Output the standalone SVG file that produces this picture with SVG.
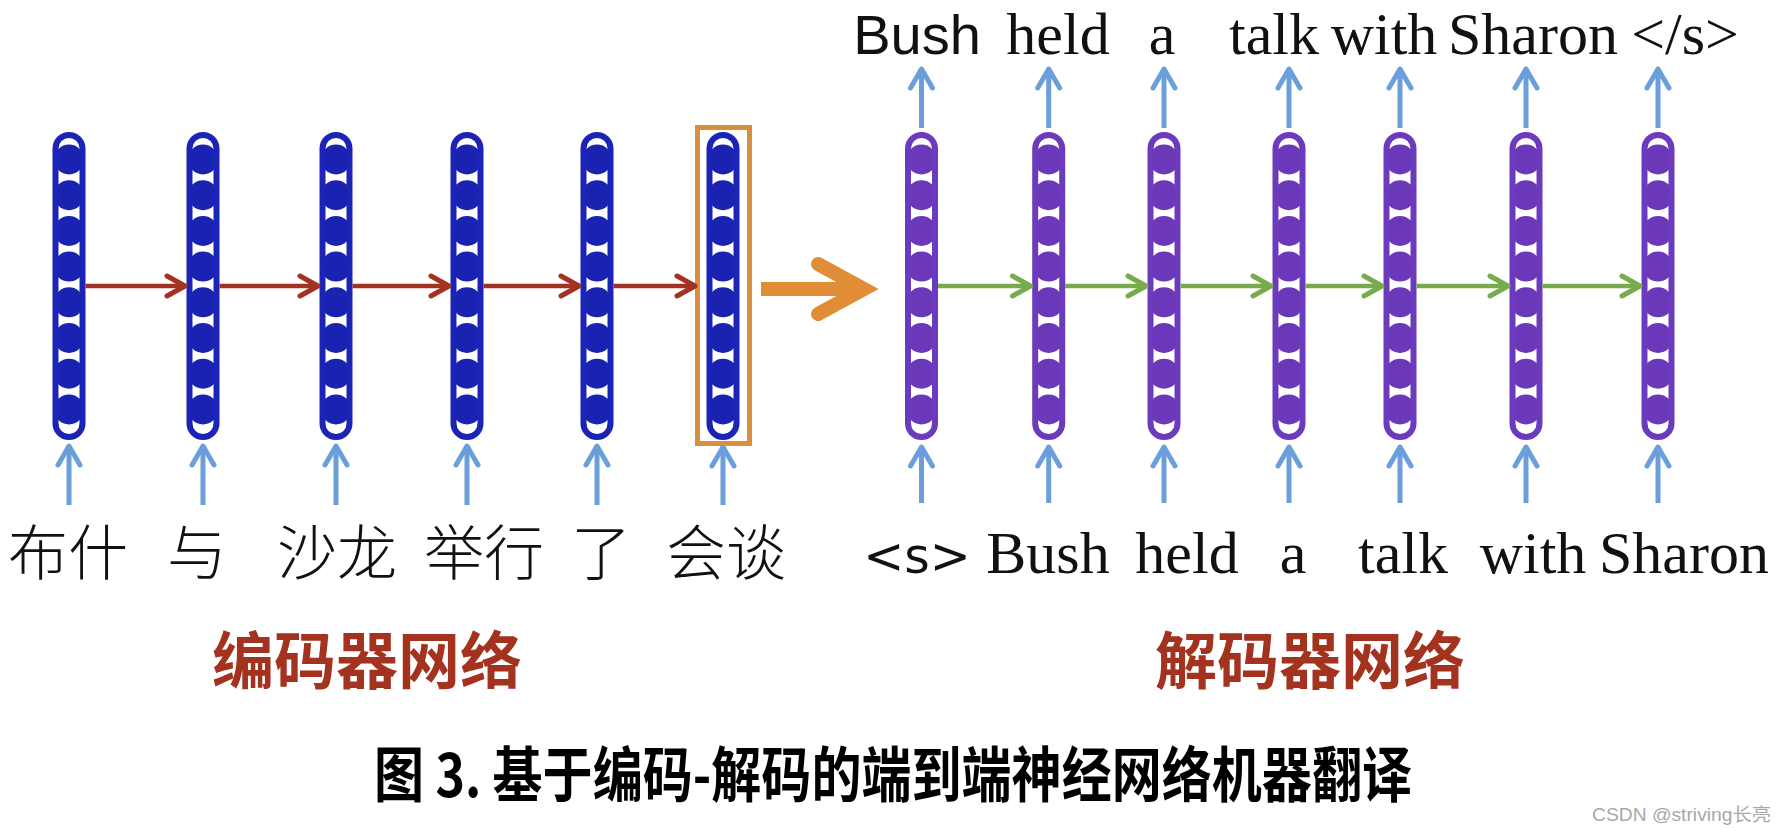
<svg xmlns="http://www.w3.org/2000/svg" xmlns:xlink="http://www.w3.org/1999/xlink" width="1786" height="836" viewBox="0 0 1786 836">
<style>
.cn{font-family:"Noto Sans CJK SC","Noto Sans",sans-serif;fill:#111;font-size:60px;font-weight:300;text-anchor:middle}
.head{font-family:"Noto Sans CJK SC","Noto Sans",sans-serif;fill:#a3321f;font-size:62px;font-weight:700;text-anchor:middle}
.tm{font-family:"Liberation Serif","Times New Roman",serif;fill:#111;font-size:60px;text-anchor:middle}
.sn{font-family:"Liberation Sans",Arial,sans-serif;fill:#111;font-size:56px;text-anchor:middle}
.dv{font-family:"DejaVu Sans",Verdana,sans-serif;fill:#111;font-size:49px;text-anchor:middle}
.cap{font-family:"Noto Sans CJK SC","Noto Sans",sans-serif;fill:#000;font-size:60px;font-weight:700}
.wm{font-family:"Liberation Sans","Noto Sans CJK SC",sans-serif;fill:#a8a8a8;font-size:18px}
.blue{stroke:#6a9fdb;stroke-width:5;fill:none}
.red{stroke:#a33222;stroke-width:4.5;fill:none}
.green{stroke:#77ab4b;stroke-width:4.5;fill:none}
.mh{fill:none;stroke-linecap:round;stroke-linejoin:round}
</style>
<defs>
<marker id="mBlue" markerUnits="userSpaceOnUse" markerWidth="40" markerHeight="40" viewBox="-30 -20 40 40" refX="0" refY="0" orient="auto">
<path class="mh" d="M-19,-11 L0,0 L-19,11" stroke="#6a9fdb" stroke-width="5"/>
</marker>
<marker id="mRed" markerUnits="userSpaceOnUse" markerWidth="40" markerHeight="40" viewBox="-30 -20 40 40" refX="0" refY="0" orient="auto">
<path class="mh" d="M-18,-10 L0,0 L-18,10" stroke="#a33222" stroke-width="5"/>
</marker>
<marker id="mGreen" markerUnits="userSpaceOnUse" markerWidth="40" markerHeight="40" viewBox="-30 -20 40 40" refX="0" refY="0" orient="auto">
<path class="mh" d="M-18,-10 L0,0 L-18,10" stroke="#77ab4b" stroke-width="5"/>
</marker>
<g id="encCol">
<g fill="#1a22b2">
<circle cx="0" cy="159.5" r="15"/><circle cx="0" cy="195.2" r="15"/><circle cx="0" cy="230.9" r="15"/><circle cx="0" cy="266.6" r="15"/>
<circle cx="0" cy="302.3" r="15"/><circle cx="0" cy="338" r="15"/><circle cx="0" cy="373.7" r="15"/><circle cx="0" cy="409.4" r="15"/>
</g>
<rect x="-13.5" y="135" width="27" height="302" rx="13.5" fill="none" stroke="#1c24b8" stroke-width="6"/>
</g>
<g id="decCol">
<g fill="#6a38b8">
<circle cx="0" cy="159.5" r="15"/><circle cx="0" cy="195.2" r="15"/><circle cx="0" cy="230.9" r="15"/><circle cx="0" cy="266.6" r="15"/>
<circle cx="0" cy="302.3" r="15"/><circle cx="0" cy="338" r="15"/><circle cx="0" cy="373.7" r="15"/><circle cx="0" cy="409.4" r="15"/>
</g>
<rect x="-13.5" y="135" width="27" height="302" rx="13.5" fill="none" stroke="#6c3abc" stroke-width="6"/>
</g>
</defs>
<rect width="1786" height="836" fill="#fff"/>

<g id="encoder">
<g id="enc1"><use xlink:href="#encCol" transform="translate(69,0)"/></g>
<g id="enc2"><use xlink:href="#encCol" transform="translate(203,0)"/></g>
<g id="enc3"><use xlink:href="#encCol" transform="translate(336,0)"/></g>
<g id="enc4"><use xlink:href="#encCol" transform="translate(467,0)"/></g>
<g id="enc5"><use xlink:href="#encCol" transform="translate(597,0)"/></g>
<g id="enc6"><use xlink:href="#encCol" transform="translate(723,0)"/>
<rect x="697.5" y="127.5" width="52" height="316" fill="none" stroke="#d9903c" stroke-width="5"/></g>
</g>

<g id="decoder">
<g id="dec1"><use xlink:href="#decCol" transform="translate(921.5,0)"/></g>
<g id="dec2"><use xlink:href="#decCol" transform="translate(1048.7,0)"/></g>
<g id="dec3"><use xlink:href="#decCol" transform="translate(1164,0)"/></g>
<g id="dec4"><use xlink:href="#decCol" transform="translate(1289,0)"/></g>
<g id="dec5"><use xlink:href="#decCol" transform="translate(1400,0)"/></g>
<g id="dec6"><use xlink:href="#decCol" transform="translate(1526,0)"/></g>
<g id="dec7"><use xlink:href="#decCol" transform="translate(1658,0)"/></g>
</g>

<g id="connectors">
<g class="red" marker-end="url(#mRed)">
<path d="M85.5,286 H185"/>
<path d="M219.5,286 H318"/>
<path d="M352.5,286 H449"/>
<path d="M483.5,286 H579"/>
<path d="M613.5,286 H695"/>
</g>
<g class="green" marker-end="url(#mGreen)">
<path d="M938,286 H1030.5"/>
<path d="M1065.2,286 H1146"/>
<path d="M1180.5,286 H1271"/>
<path d="M1305.5,286 H1382"/>
<path d="M1416.5,286 H1508"/>
<path d="M1542.5,286 H1640"/>
</g>
<g class="blue" marker-end="url(#mBlue)">
<path d="M69,505 V446"/>
<path d="M203,505 V446"/>
<path d="M336,505 V446"/>
<path d="M467,505 V446"/>
<path d="M597,505 V446"/>
<path d="M723,505 V447"/>
<path d="M921.5,503 V447"/>
<path d="M1048.7,503 V447"/>
<path d="M1164,503 V447"/>
<path d="M1289,503 V447"/>
<path d="M1400,503 V447"/>
<path d="M1526,503 V447"/>
<path d="M1658,503 V447"/>
<path d="M921.5,128 V69"/>
<path d="M1048.7,128 V69"/>
<path d="M1164,128 V69"/>
<path d="M1289,128 V69"/>
<path d="M1400,128 V69"/>
<path d="M1526,128 V69"/>
<path d="M1658,128 V69"/>
</g>
<g id="bridge" fill="none" stroke="#e08d35" stroke-width="14">
<path d="M761,289 H858"/>
<path d="M818,264 L864,289 L818,314" stroke-linecap="round" stroke-linejoin="miter"/>
</g>
</g>

<g id="labels">
<text class="cn" x="68" y="575">布什</text>
<text class="cn" x="197" y="575">与</text>
<text class="cn" x="337" y="575">沙龙</text>
<text class="cn" x="484" y="575">举行</text>
<text class="cn" x="601" y="575">了</text>
<text class="cn" x="726" y="575">会谈</text>

<text class="dv" x="917" y="573">&lt;s&gt;</text>
<text class="tm" x="1048" y="573">Bush</text>
<text class="tm" x="1187" y="573">held</text>
<text class="tm" x="1293" y="573">a</text>
<text class="tm" x="1403" y="573">talk</text>
<text class="tm" x="1533" y="573">with</text>
<text class="tm" x="1684" y="573">Sharon</text>

<text class="sn" x="917" y="54">Bush</text>
<text class="tm" x="1058" y="54">held</text>
<text class="tm" x="1162" y="54">a</text>
<text class="tm" x="1274" y="54">talk</text>
<text class="tm" x="1384" y="54">with</text>
<text class="tm" x="1533" y="54">Sharon</text>
<text class="tm" x="1685" y="54">&lt;/s&gt;</text>

<text class="head" x="367" y="684">编码器网络</text>
<text class="head" x="1310" y="684">解码器网络</text>

<text class="cap" x="374" y="797" textLength="1038" lengthAdjust="spacingAndGlyphs">图 3. 基于编码-解码的端到端神经网络机器翻译</text>
<text class="wm" x="1592" y="821" textLength="179" lengthAdjust="spacingAndGlyphs">CSDN @striving长亮</text>
</g>
</svg>
